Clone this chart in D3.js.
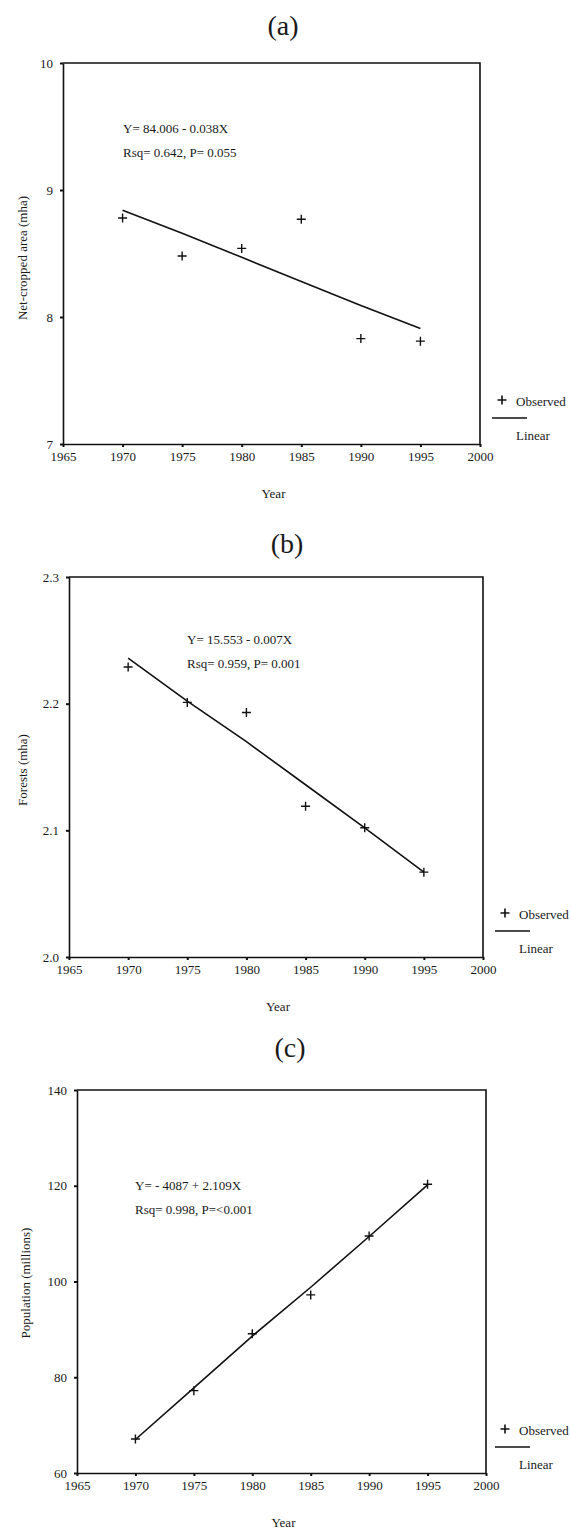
<!DOCTYPE html>
<html>
<head>
<meta charset="utf-8">
<script src="https://cdn.jsdelivr.net/npm/d3@7"></script>
<style>
  body { margin: 0; background: #fff; }
  text { font-family: 'Liberation Serif', 'Times New Roman', serif; fill: #1a1a1a; }
</style>
</head>
<body>
<div id="chart"></div>
<script>
// data
const years = [1970, 1975, 1980, 1985, 1990, 1995]
const xTicks = [1965, 1970, 1975, 1980, 1985, 1990, 1995, 2000]

const cropObserved = [8.78, 8.48, 8.54, 8.77, 7.83, 7.81]
const cropLinear = [8.84, 8.66, 8.47, 8.28, 8.09, 7.91]
const cropTicks = [7, 8, 9, 10]

const forestObserved = [2.229, 2.201, 2.193, 2.119, 2.102, 2.067]
const forestLinear = [2.236, 2.202, 2.170, 2.136, 2.102, 2.067]
const forestTicks = [2.0, 2.1, 2.2, 2.3]

const popObserved = [67.1, 77.2, 89.1, 97.2, 109.5, 120.3]
const popLinear = [67.0, 77.8, 88.6, 98.8, 109.4, 120.2]
const popTicks = [60, 80, 100, 120, 140]

const titles = ['(a)', '(b)', '(c)']
const yLabels = ['Net-cropped area (mha)', 'Forests (mha)', 'Population (millions)']
const equations = [
  ['Y= 84.006 - 0.038X', 'Rsq= 0.642, P= 0.055'],
  ['Y= 15.553 - 0.007X', 'Rsq= 0.959, P= 0.001'],
  ['Y= - 4087 + 2.109X', 'Rsq= 0.998, P=<0.001']
]
const legendLabels = ['Observed', 'Linear']

// canvas
const svgWidth = 571
const svgHeight = 1534
const svg = d3.select('#chart').append('svg').attr('width', svgWidth).attr('height', svgHeight)

// panel layout
const panels = [
  { observed: cropObserved, linear: cropLinear, ticks: cropTicks, fmt: d3.format('d'),
    left: 63, right: 480, top: 63, bottom: 444, titleX: 283, titleY: 25, eqX: 123, eqY: 128, labelX: 22, labelY: 258 },
  { observed: forestObserved, linear: forestLinear, ticks: forestTicks, fmt: d3.format('.1f'),
    left: 69, right: 483, top: 577, bottom: 957, titleX: 287, titleY: 543, eqX: 187, eqY: 639, labelX: 22, labelY: 770 },
  { observed: popObserved, linear: popLinear, ticks: popTicks, fmt: d3.format('d'),
    left: 77, right: 486, top: 1090, bottom: 1473, titleX: 290, titleY: 1047, eqX: 135, eqY: 1185, labelX: 25, labelY: 1283 }
]

const plus = 'M-4.5,0H4.5M0,-4.5V4.5'

panels.forEach(function (p, i) {
  const g = svg.append('g')

  const x = d3.scaleLinear().domain([1965, 2000]).range([p.left, p.right])
  const y = d3.scaleLinear().domain(d3.extent(p.ticks)).range([p.bottom, p.top])

  // title
  g.append('text').attr('x', p.titleX).attr('y', p.titleY).attr('dy', '0.35em')
    .attr('text-anchor', 'middle').style('font-size', '28px').text(titles[i])

  // frame top and right
  g.append('path')
    .attr('d', `M${p.left},${p.top}H${p.right}V${p.bottom}`)
    .attr('fill', 'none').attr('stroke', '#111').attr('stroke-width', 1.6)

  // axes
  const xAxis = g.append('g').attr('transform', `translate(0, ${p.bottom})`)
    .call(d3.axisBottom(x).tickValues(xTicks).tickFormat(d3.format('d')).tickSize(3).tickSizeOuter(0).tickPadding(5))
  const yAxis = g.append('g').attr('transform', `translate(${p.left}, 0)`)
    .call(d3.axisLeft(y).tickValues(p.ticks).tickFormat(p.fmt).tickSize(3).tickSizeOuter(0).tickPadding(7))
  ;[xAxis, yAxis].forEach(function (a) {
    a.select('.domain').attr('stroke', '#111').attr('stroke-width', 1.6)
    a.selectAll('.tick line').attr('stroke', '#111').attr('stroke-width', 2)
    a.selectAll('.tick text').style('font-size', '13px').style('font-family', "'Liberation Serif', serif").attr('fill', '#1a1a1a')
  })

  // axis titles
  g.append('text').attr('x', (p.left + p.right) / 2 + 2).attr('y', p.bottom + 54)
    .attr('text-anchor', 'middle').style('font-size', '13px').text('Year')
  g.append('text').attr('transform', `translate(${p.labelX}, ${p.labelY}) rotate(-90)`)
    .attr('dy', '0.35em').attr('text-anchor', 'middle').style('font-size', '13px').text(yLabels[i])

  // equation text
  equations[i].forEach(function (t, k) {
    g.append('text').attr('x', p.eqX).attr('y', p.eqY + k * 24).attr('dy', '0.35em')
      .style('font-size', '13px').text(t)
  })

  // fitted line
  const line = d3.line().x((d, k) => x(years[k])).y(d => y(d))
  g.append('path').datum(p.linear).attr('d', line)
    .attr('fill', 'none').attr('stroke', '#111').attr('stroke-width', 1.6)

  // observed markers
  g.selectAll('.obs').data(p.observed).enter().append('path').attr('class', 'obs')
    .attr('d', plus)
    .attr('transform', (d, k) => `translate(${x(years[k])}, ${y(d)})`)
    .attr('stroke', '#111').attr('stroke-width', 1.4).attr('fill', 'none')

  // legend (kept inside the page width)
  const lx = Math.min(p.right + 22, svgWidth - 66)
  g.append('path').attr('d', plus).attr('transform', `translate(${lx}, ${p.bottom - 44})`)
    .attr('stroke', '#111').attr('stroke-width', 1.6)
  g.append('text').attr('x', lx + 14).attr('y', p.bottom - 43).attr('dy', '0.35em')
    .style('font-size', '13px').text(legendLabels[0])
  g.append('line').attr('x1', lx - 10).attr('x2', lx + 25)
    .attr('y1', p.bottom - 26).attr('y2', p.bottom - 26)
    .attr('stroke', '#111').attr('stroke-width', 1.4)
  g.append('text').attr('x', lx + 14).attr('y', p.bottom - 9).attr('dy', '0.35em')
    .style('font-size', '13px').text(legendLabels[1])
})
</script>
</body>
</html>
